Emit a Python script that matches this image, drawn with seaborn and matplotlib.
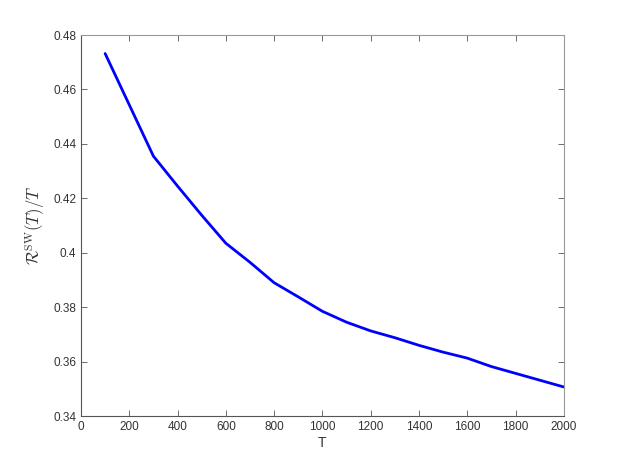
import numpy as np
import pandas as pd
import matplotlib
matplotlib.use("Agg")
import matplotlib.pyplot as plt
import seaborn as sns

# data
T = [100, 300, 400, 500, 600, 700, 800, 900, 1000, 1100, 1200, 1300,
     1400, 1500, 1600, 1700, 1800, 1900, 2000]
ratio = [0.4732, 0.4355, 0.4245, 0.4138, 0.4035, 0.3965, 0.3890, 0.3838,
         0.3785, 0.3745, 0.3713, 0.3688, 0.3660, 0.3635, 0.3613, 0.3582,
         0.3557, 0.3532, 0.3507]
xticks = list(range(0, 2001, 200))
yticks = [0.34, 0.36, 0.38, 0.40, 0.42, 0.44, 0.46, 0.48]
ytick_labels = ["0.34", "0.36", "0.38", "0.4", "0.42", "0.44", "0.46", "0.48"]

df = pd.DataFrame({"T": T, "ratio": ratio})

sns.set_style("white")
plt.rcParams["font.family"] = ["Liberation Sans", "DejaVu Sans"]
plt.rcParams["mathtext.fontset"] = "cm"

fig = plt.figure(figsize=(6.23, 4.67), dpi=100)
ax = fig.add_axes([0.130, 0.109, 0.775, 0.816])
sns.lineplot(data=df, x="T", y="ratio", color="#0000ff", linewidth=2, ax=ax)

ax.set_xlim(0, 2000)
ax.set_ylim(0.34, 0.48)
ax.set_xticks(xticks)
ax.set_yticks(yticks)
ax.set_yticklabels(ytick_labels)
ax.tick_params(direction="in", length=4, width=0.6, color="#555555",
               labelcolor="#333333", labelsize=8.5,
               top=True, right=True, bottom=True, left=True)
for name, s in ax.spines.items():
    s.set_color("#555555" if name in ("left", "bottom") else "#999999")
    s.set_linewidth(0.8)
ax.set_xlabel("T", fontsize=10, color="#333333", labelpad=2)
ax.set_ylabel(r"$\mathcal{R}^{\rm SW}(T)/T$", fontsize=12, color="#333333", labelpad=4)

plt.savefig("out.png", dpi=100)
